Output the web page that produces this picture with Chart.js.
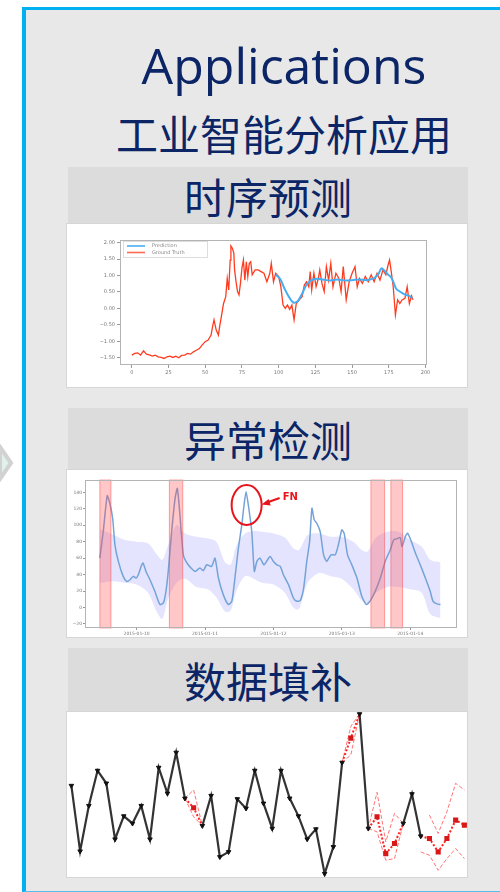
<!DOCTYPE html>
<html>
<head>
<meta charset="utf-8">
<script src="https://cdn.jsdelivr.net/npm/chart.js@4.4.0/dist/chart.umd.min.js"></script>
<style>
  html, body { margin: 0; padding: 0; background: #fff; width: 500px; height: 892px; overflow: hidden; }
  .panel { position: absolute; left: 22px; top: 7px; width: 478px; height: 885px; box-sizing: border-box;
           background: #e8e8e8; border-left: 4px solid #00b0f0; border-top: 3px solid #00b0f0; border-bottom: 1px solid #5bc0e8; }
  .title { position: absolute; left: 84px; width: 400px; text-align: center; color: #0b2566; white-space: nowrap; }
  .t1 { top: 40px; font: 50px/50px "Open Sans", sans-serif; }
  .t2 { top: 112px; font: 42px/42px "Noto Sans CJK SC", sans-serif; }
  .hdr { position: absolute; left: 68px; width: 400px; background: #dcdcdc; text-align: center; color: #0b2566;
         font-family: "Noto Sans CJK SC", sans-serif; font-size: 42px; }
  .box { position: absolute; left: 67px; width: 400px; background: #fff; box-shadow: 0 0 0 1px #d6d6d6; }
  .box canvas { display: block; filter: blur(0.7px); }
  #c3 { filter: blur(0.5px); }
</style>
</head>
<body>
<svg style="position:absolute;left:0;top:444px" width="16" height="40">
  <polygon points="0,3 11,19 0,35" fill="#dff1e9" stroke="#d2d2d2" stroke-width="4"/>
</svg>
<div class="panel"></div>
<div class="title t1">Applications</div>
<div class="title t2">工业智能分析应用</div>

<div class="hdr" style="top:167px;height:57px;line-height:57px">时序预测</div>
<div class="box" style="top:224px;height:163px"><canvas id="c1" width="400" height="163"></canvas></div>

<div class="hdr" style="top:408px;height:62px;line-height:62px">异常检测</div>
<div class="box" style="top:470px;height:167px"><canvas id="c2" width="400" height="167"></canvas></div>

<div class="hdr" style="top:648px;height:64px;line-height:64px">数据填补</div>
<div class="box" style="top:712px;height:165px"><canvas id="c3" width="400" height="165"></canvas></div>

<script>
// ---------- chart 1: time series forecast ----------
const tsX = [0,2,4,6,8,10,12,14,16,18,20,22,24,26,28,30,32,34,36,38,40,42,44,46,48,50,52,54,55,56,57.5,59,60,61,62.5,64,65,66,67,67.5,68.5,69.5,70,71,72,73,74,75,76,77,78,79,80,81,82,84,86,88,90,92,94,95,96.5,98,100,101.5,103,104.5,106,107.5,109,110.5,112,114,116,117.5,119,120.5,121.5,122.5,124,125.5,127,128,129.5,131,132.5,134,135.5,137,139,141,142.5,144,146,148,150,152,153.5,155,157,159,161,163,165,167,169,171,173,174.5,175.5,176.5,178,179.5,181,182.5,184,186,187.5,189,190.5,191.5];
const tsTruth = [-1.42,-1.37,-1.35,-1.42,-1.29,-1.39,-1.41,-1.45,-1.42,-1.47,-1.49,-1.52,-1.47,-1.45,-1.49,-1.45,-1.5,-1.43,-1.42,-1.37,-1.39,-1.32,-1.27,-1.22,-1.11,-1.01,-0.96,-0.81,-0.56,-0.35,-0.66,-0.81,-0.5,-0.25,0.15,0.36,0.91,0.56,1.47,1.9,1.83,1.68,1.17,0.81,0.51,0.41,0.76,1.22,1.47,0.86,1.42,0.97,1.37,1.42,1.02,1.17,1.17,1.12,1.07,0.81,1.07,1.37,0.81,1.07,0.97,0.66,0.1,0.0,0.1,-0.03,0.1,-0.35,0.15,0.26,0.36,0.71,0.81,0.66,1.12,0.56,1.07,0.66,0.91,1.17,0.76,0.51,1.27,0.86,1.37,0.66,1.07,0.91,0.51,1.27,0.26,0.81,1.07,1.27,0.66,0.91,0.76,0.97,0.81,1.02,0.81,1.07,0.86,1.17,1.02,1.32,1.47,1.17,0.66,-0.2,0.26,0.15,0.26,0.31,0.66,0.15,0.38,0.26];
const predX = [98,101,104,107,110,113,116,119,122,126,130,135,140,145,150,155,160,165,168,170,172,174,177,180,183,186,189,191];
const predY = [1.02,0.9,0.6,0.35,0.18,0.22,0.45,0.72,0.85,0.9,0.88,0.85,0.88,0.85,0.86,0.88,0.86,0.92,1.05,1.22,1.15,1.05,0.92,0.6,0.5,0.42,0.38,0.3];
const tsXTicks = [0,25,50,75,100,125,150,175,200];
const tsXLabels = ['0','25','50','75','100','125','150','175','200'];
const tsYTicks = [2,1.5,1,0.5,0,-0.5,-1,-1.5];
const tsYLabels = ['2.00','1.50','1.00','0.50','0.00','−0.50','−1.00','−1.50'];

// ---------- chart 2: anomaly detection ----------
const adX = [-12.9,-11.7,-10.3,-9.4,-8.4,-7.6,-6.4,-4.7,-3.5,-2.3,
  -1.2,-0.2,0.6,1.8,2.3,3.3,4.7,6.4,8.2,9.4,
  10.3,11.1,12.3,13.5,14.3,15.2,16.4,18.1,20.5,22.2,
  23.4,24.6,26.3,27.5,28.7,30.4,32.2,33.4,34.5,35.7,
  36.9,37.7,38.4,39.2,40.4,41.3,42.2,43.3,44.7,46.8,
  48.0,49.2,50.4,51.5,53.3,55.0,56.2,57.4,58.6,59.7,
  60.7,61.5,62.3,63.2,64.4,65.6,66.7,68.2,69.7,70.8,
  72.0,72.8,74.0,75.5,77.3,79.0,80.6,82.0,83.7,85.5,
  87.2,89.0,90.2,91.3,92.5,93.1,94.3,95.1,96.6,97.8,
  99.5,101.3,103.0,104.0,105.4,106.6];
const adValue = [60,92.3,136,126.7,108.5,76.2,56,37.8,31.7,33.7,
  37.8,35.8,39.8,51.9,54,43.8,33.7,19.6,3.5,5.5,
  19.6,43.8,92.3,132.7,144.8,112.5,64,51.9,43.8,47.9,
  44.7,51.9,49.9,60,35.8,15.6,3.5,7.5,35.8,72,
  100.4,124.6,140.8,124.6,92.3,43.8,56,60,51.9,62,
  56,51.9,49.9,39.8,27.7,11.5,7.5,8.3,23.6,56,
  80.2,120.6,106.5,102.4,92.3,64,56,64,64,76.2,
  94.3,90.3,64,51.9,35.8,13.5,3.5,8.3,19.6,35.8,
  56,70.1,82.2,83.4,85,74.1,86.3,90.3,78.2,66.1,
  51.9,35.8,19.6,7.5,4.3,3.5];
const bandX  = [-12.9,-8,-4,0,4,7,9,11,14,17,21,25,28,31,33,35,38,41,44,48,52,55,57,60,64,68,72,76,79,81,84,88,92,96,100,103,106.6];
const bandHi = [95,88,82,80,78,65,58,75,100,90,86,84,80,55,52,75,90,93,92,90,85,72,70,88,90,86,86,80,70,68,85,92,92,82,74,58,55];
const bandLo = [30,32,30,28,18,-5,-14,10,30,35,25,22,12,-5,-4,20,38,35,30,28,18,0,-2,30,42,38,35,22,8,5,18,25,25,22,18,-8,-13];
const anomalyStart = [-12.9,11.5,82.2,89.2];
const anomalyEnd   = [-9.0,16.2,87.0,93.3];
const adYTicks = [140,120,100,80,60,40,20,0,-20];
const adYLabels = ['140','120','100','80','60','40','20','0','−20'];
const adXTicks = [0,24,48,72,96];
const adXLabels = ['2015-01-10','2015-01-11','2015-01-12','2015-01-13','2015-01-14'];
const fnX = 38.6, fnY = 124.6;

// ---------- chart 3: data imputation ----------
const fillIdx = [0,1,2,3,4,5,6,7,8,9,10,11,12,13,14,15,16,17,18,19,20,21,22,23,24,25,26,27,28,29,30,31,32,33,34,35,36,37,38,39,40,41,42,43,44,45];
const observed = [27.8,8.2,21.8,32.3,28.5,11.8,18.7,16.5,21.8,11.8,33.2,25.5,37.7,24.0,null,15.8,24.8,6.5,8.0,23.8,21.0,32.3,22.5,15.0,32.3,24.0,18.7,11.8,14.8,1.5,9.5,34.7,null,49.2,15.0,null,null,null,16.5,25.3,12.7,null,null,null,null,null];
const imputed = [null,null,null,null,null,null,null,null,null,null,null,null,null,24.0,21.2,15.8,null,null,null,null,null,null,null,null,null,null,null,null,null,null,null,34.7,42.0,49.2,15.0,18.5,7.5,10.5,16.5,null,12.7,12.0,8.0,12.0,17.5,16.0];
const imputedHi = [null,null,null,null,null,null,null,null,null,null,null,null,null,24.0,26.5,15.8,null,null,null,null,null,null,null,null,null,null,null,null,null,null,null,34.7,45.5,49.2,15.0,25.8,11.0,19.5,16.5,null,null,19.0,13.5,20.0,28.5,26.5];
const imputedLo = [null,null,null,null,null,null,null,null,null,null,null,null,null,24.0,18.5,15.8,null,null,null,null,null,null,null,null,null,null,null,null,null,null,null,34.7,37.0,49.2,15.0,14.0,5.5,6.0,16.5,null,8.0,7.0,2.5,6.0,9.0,6.0];

// ---------- helpers ----------
const tickFont = { family: 'DejaVu Sans', size: 5 };
const pts = (xs, ys) => xs.map((x, i) => ({ x: x, y: ys[i] }));
const fixTicks = vals => scale => { scale.ticks = vals.map(v => ({ value: v })); };

// box round the plot area, like the matplotlib spines
const framePlugin = {
  id: 'frame',
  afterDraw(chart, args, opts) {
    if (!opts.color) return;
    const a = chart.chartArea, ctx = chart.ctx;
    ctx.save();
    ctx.strokeStyle = opts.color;
    ctx.lineWidth = 1;
    ctx.strokeRect(a.left + 0.5, a.top + 0.5, a.right - a.left - 1, a.bottom - a.top - 1);
    ctx.restore();
  }
};

// small legend in the top-left corner of chart 1
const cornerLegend = {
  id: 'cornerLegend',
  afterDraw(chart, args, opts) {
    if (!opts.items) return;
    const a = chart.chartArea, ctx = chart.ctx;
    const x0 = a.left + 3, y0 = a.top + 1;
    ctx.save();
    ctx.fillStyle = 'rgba(255,255,255,0.9)';
    ctx.strokeStyle = '#dddddd';
    ctx.fillRect(x0, y0, 84, 16);
    ctx.strokeRect(x0 + 0.5, y0 + 0.5, 84, 16);
    ctx.font = '5px DejaVu Sans';
    ctx.textBaseline = 'middle';
    opts.items.forEach((it, i) => {
      const y = y0 + 5 + i * 6.5;
      ctx.strokeStyle = it.color;
      ctx.lineWidth = 1.6;
      ctx.beginPath(); ctx.moveTo(x0 + 4, y); ctx.lineTo(x0 + 22, y); ctx.stroke();
      ctx.fillStyle = '#888';
      ctx.fillText(it.text, x0 + 29, y);
    });
    ctx.restore();
  }
};

// red anomaly spans + FN circle on chart 2
const anomalyMarks = {
  id: 'anomalyMarks',
  afterDatasetsDraw(chart, args, opts) {
    if (!opts.spans) return;
    const xs = chart.scales.x, ys = chart.scales.y, a = chart.chartArea, ctx = chart.ctx;
    ctx.save();
    opts.spans.start.forEach((s, i) => {
      const l = xs.getPixelForValue(s), r = xs.getPixelForValue(opts.spans.end[i]);
      ctx.fillStyle = 'rgba(255,80,80,0.32)';
      ctx.fillRect(l, a.top, r - l, a.bottom - a.top);
      ctx.strokeStyle = 'rgba(255,60,60,0.45)';
      ctx.lineWidth = 1;
      ctx.strokeRect(l, a.top, r - l, a.bottom - a.top);
    });
    // FN marker
    const cx = xs.getPixelForValue(opts.fn.x), cy = ys.getPixelForValue(opts.fn.y);
    ctx.strokeStyle = '#e8141c';
    ctx.lineWidth = 2;
    ctx.beginPath(); ctx.ellipse(cx, cy, 15, 20, 0, 0, Math.PI * 2); ctx.stroke();
    ctx.beginPath(); ctx.moveTo(cx + 33, cy - 7); ctx.lineTo(cx + 19, cy - 2); ctx.stroke();
    ctx.fillStyle = '#e8141c';
    ctx.beginPath(); ctx.moveTo(cx + 15, cy - 0.5); ctx.lineTo(cx + 22, cy - 6); ctx.lineTo(cx + 24, cy + 0.5); ctx.closePath(); ctx.fill();
    ctx.font = 'bold 10px DejaVu Sans';
    ctx.textBaseline = 'middle';
    ctx.fillText('FN', cx + 36, cy - 8);
    ctx.restore();
  }
};

Chart.register(framePlugin, cornerLegend, anomalyMarks);

// ---------- chart 1 ----------
new Chart(document.getElementById('c1'), {
  type: 'line',
  data: {
    datasets: [
      { label: 'Prediction', data: pts(predX, predY), borderColor: '#45aef2', borderWidth: 2, pointRadius: 0, tension: 0.3 },
      { label: 'Ground Truth', data: pts(tsX, tsTruth), borderColor: '#ff3b1f', borderWidth: 1.3, pointRadius: 0 }
    ]
  },
  options: {
    responsive: false, devicePixelRatio: 1, animation: false,
    layout: { autoPadding: false, padding: { left: 0, top: 16, right: 40, bottom: 0 } },
    plugins: {
      legend: { display: false }, tooltip: { enabled: false },
      frame: { color: '#b4b4b4' },
      cornerLegend: { items: [{ text: 'Prediction', color: '#45aef2' }, { text: 'Ground Truth', color: '#ff6a55' }] }
    },
    scales: {
      x: {
        type: 'linear', min: -8, max: 201,
        afterBuildTicks: fixTicks(tsXTicks),
        afterFit(s) { s.height = 22; },
        grid: { drawOnChartArea: false, tickLength: 3, color: '#999' },
        border: { display: false },
        ticks: { font: tickFont, color: '#777', padding: 2, maxRotation: 0, autoSkip: false,
                 callback: (v, i) => tsXLabels[i] }
      },
      y: {
        min: -1.72, max: 2.08,
        afterBuildTicks: fixTicks(tsYTicks),
        afterFit(s) { s.width = 53; },
        grid: { drawOnChartArea: false, tickLength: 3, color: '#999' },
        border: { display: false },
        ticks: { font: tickFont, color: '#777', padding: 2, autoSkip: false,
                 callback: (v, i) => tsYLabels[i] }
      }
    }
  }
});

// ---------- chart 2 ----------
new Chart(document.getElementById('c2'), {
  type: 'line',
  data: {
    datasets: [
      { data: pts(adX, adValue), borderColor: '#74a3d8', borderWidth: 1.5, pointRadius: 0, tension: 0.2 },
      { data: pts(bandX, bandHi), borderWidth: 0, borderColor: 'transparent', pointRadius: 0, fill: false, tension: 0.3 },
      { data: pts(bandX, bandLo), borderWidth: 0, borderColor: 'transparent', pointRadius: 0, fill: '-1',
        backgroundColor: 'rgba(120,120,255,0.2)', tension: 0.3 }
    ]
  },
  options: {
    responsive: false, devicePixelRatio: 1, animation: false,
    layout: { autoPadding: false, padding: { left: 0, top: 10, right: 10, bottom: 0 } },
    plugins: {
      legend: { display: false }, tooltip: { enabled: false },
      frame: { color: '#b4b4b4' },
      anomalyMarks: { spans: { start: anomalyStart, end: anomalyEnd }, fn: { x: fnX, y: fnY } }
    },
    scales: {
      x: {
        type: 'linear', min: -18.1, max: 112.4,
        afterBuildTicks: fixTicks(adXTicks),
        afterFit(s) { s.height = 9; },
        grid: { drawOnChartArea: false, tickLength: 2, color: '#999' },
        border: { display: false },
        ticks: { font: { family: 'DejaVu Sans', size: 4.5 }, color: '#777', padding: 1, maxRotation: 0, autoSkip: false,
                 callback: (v, i) => adXLabels[i] }
      },
      y: {
        min: -25, max: 155,
        afterBuildTicks: fixTicks(adYTicks),
        afterFit(s) { s.width = 18; },
        grid: { drawOnChartArea: false, tickLength: 2, color: '#999' },
        border: { display: false },
        ticks: { font: { family: 'DejaVu Sans', size: 4.5 }, color: '#777', padding: 1, autoSkip: false,
                 callback: (v, i) => adYLabels[i] }
      }
    }
  }
});

// ---------- chart 3 ----------
const redSeg = color => ctx => (observed[ctx.p0DataIndex] != null && observed[ctx.p1DataIndex] != null) ? 'transparent' : color;
new Chart(document.getElementById('c3'), {
  type: 'line',
  data: {
    datasets: [
      { data: pts(fillIdx, observed), borderColor: '#333333', borderWidth: 2.2, spanGaps: false,
        pointStyle: 'triangle', rotation: 180, pointRadius: 2.6, pointBackgroundColor: '#111', pointBorderColor: '#111', pointBorderWidth: 1 },
      { data: pts(fillIdx, imputed), borderWidth: 2, borderDash: [2, 2], spanGaps: false,
        segment: { borderColor: redSeg('#ff2020') },
        pointStyle: 'rect', pointRadius: ctx => observed[ctx.dataIndex] == null ? 2.2 : 0,
        pointBackgroundColor: '#d81818', pointBorderColor: '#d81818' },
      { data: pts(fillIdx, imputedHi), borderWidth: 1, borderDash: [4, 2], spanGaps: false, pointRadius: 0,
        segment: { borderColor: redSeg('rgba(255,70,70,0.75)') } },
      { data: pts(fillIdx, imputedLo), borderWidth: 1, borderDash: [4, 2], spanGaps: false, pointRadius: 0,
        segment: { borderColor: redSeg('rgba(255,70,70,0.75)') } }
    ]
  },
  options: {
    responsive: false, devicePixelRatio: 1, animation: false,
    layout: { autoPadding: false, padding: 0 },
    plugins: { legend: { display: false }, tooltip: { enabled: false } },
    scales: {
      x: { type: 'linear', min: -0.5, max: 45.3, display: false },
      y: { min: 0.5, max: 49.8, display: false }
    }
  }
});
</script>
</body>
</html>
